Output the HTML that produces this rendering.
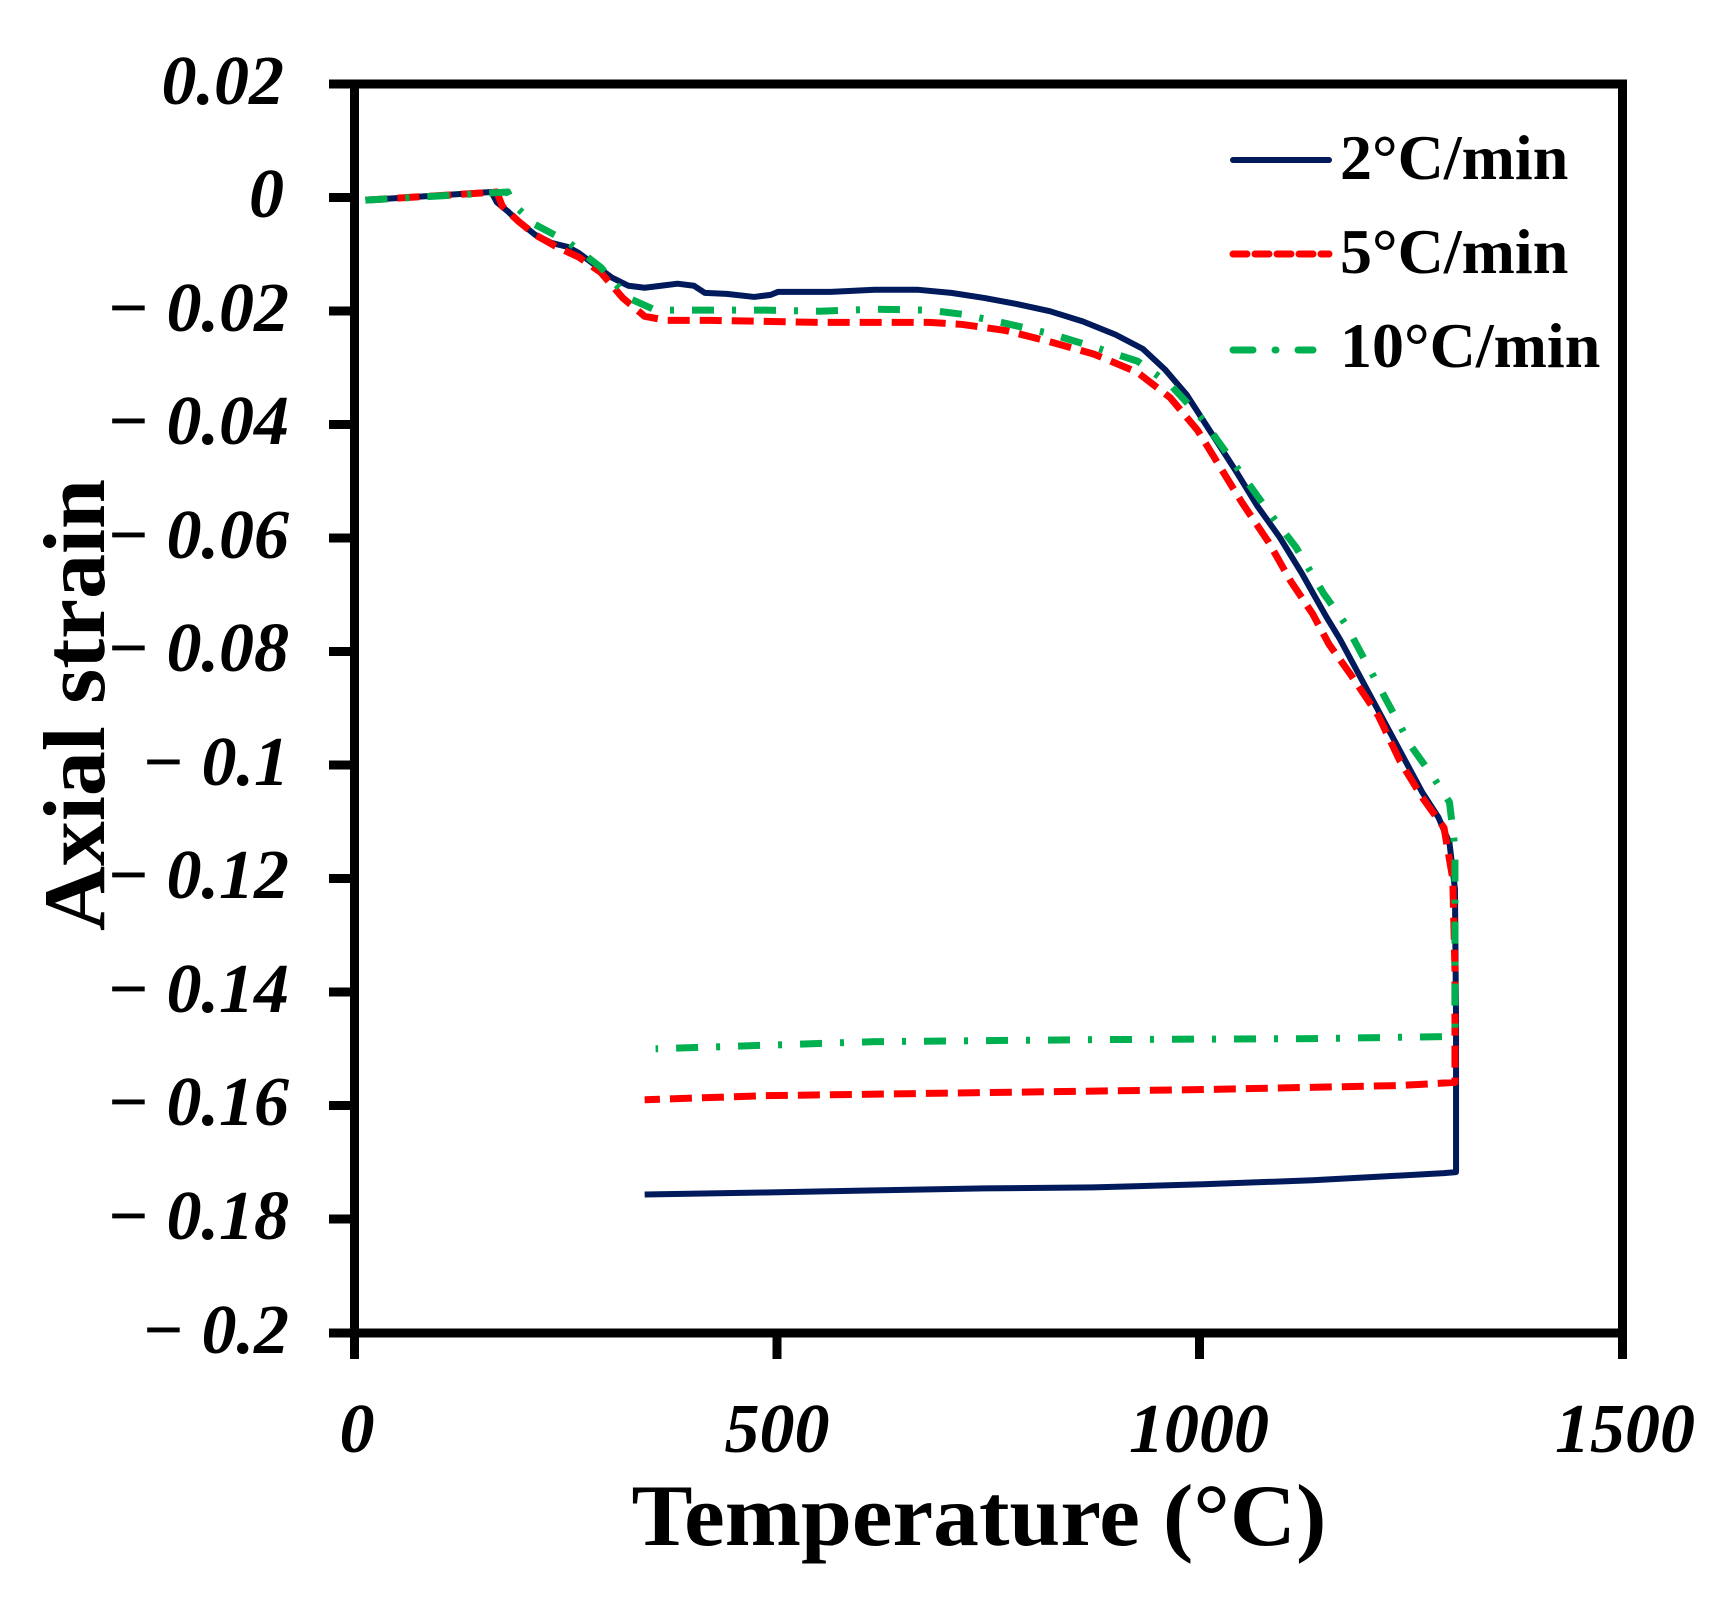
<!DOCTYPE html>
<html><head><meta charset="utf-8"><style>
html,body{margin:0;padding:0;background:#fff;}
svg{display:block;}
.tk{font-family:"Liberation Serif",serif;font-style:italic;font-weight:bold;font-size:70px;fill:#000;}
.lg{font-family:"Liberation Serif",serif;font-weight:bold;font-size:64px;fill:#000;}
.ti{font-family:"Liberation Serif",serif;font-weight:bold;font-size:88px;fill:#000;}
</style></head><body>
<svg width="1714" height="1598" viewBox="0 0 1714 1598" xmlns="http://www.w3.org/2000/svg">
<rect width="1714" height="1598" fill="#fff"/>
<g stroke="#000" stroke-width="9" fill="none">
<line x1="354.5" y1="79.5" x2="354.5" y2="1337.5"/>
<line x1="350" y1="1333" x2="1627" y2="1333"/>
<line x1="1622.5" y1="79.5" x2="1622.5" y2="1337.5"/>
<line x1="350" y1="84" x2="1627" y2="84"/>
<line x1="329" y1="84" x2="354" y2="84"/>
<line x1="329" y1="197.5" x2="354" y2="197.5"/>
<line x1="329" y1="311" x2="354" y2="311"/>
<line x1="329" y1="424.5" x2="354" y2="424.5"/>
<line x1="329" y1="538" x2="354" y2="538"/>
<line x1="329" y1="651.5" x2="354" y2="651.5"/>
<line x1="329" y1="765" x2="354" y2="765"/>
<line x1="329" y1="878.5" x2="354" y2="878.5"/>
<line x1="329" y1="992" x2="354" y2="992"/>
<line x1="329" y1="1105.5" x2="354" y2="1105.5"/>
<line x1="329" y1="1219" x2="354" y2="1219"/>
<line x1="329" y1="1333" x2="354" y2="1333"/>
<line x1="354.5" y1="1333" x2="354.5" y2="1359"/>
<line x1="777" y1="1333" x2="777" y2="1359"/>
<line x1="1199.5" y1="1333" x2="1199.5" y2="1359"/>
<line x1="1622.5" y1="1333" x2="1622.5" y2="1359"/>
</g>
<g class="tk" text-anchor="end">
<text x="284" y="104">0.02</text>
<text x="284" y="217">0</text>
<text x="289" y="331">− 0.02</text>
<text x="289" y="444">− 0.04</text>
<text x="289" y="558">− 0.06</text>
<text x="289" y="671">− 0.08</text>
<text x="289" y="785">− 0.1</text>
<text x="289" y="898">− 0.12</text>
<text x="289" y="1012">− 0.14</text>
<text x="289" y="1125">− 0.16</text>
<text x="289" y="1239">− 0.18</text>
<text x="289" y="1353">− 0.2</text>
</g>
<g class="tk" text-anchor="middle">
<text x="357" y="1452">0</text>
<text x="777" y="1452">500</text>
<text x="1199" y="1452">1000</text>
<text x="1625" y="1452">1500</text>
</g>
<text class="ti" x="979" y="1545" text-anchor="middle" textLength="695" lengthAdjust="spacingAndGlyphs">Temperature (°C)</text>
<text class="ti" transform="translate(104,705) rotate(-90)" text-anchor="middle" textLength="452" lengthAdjust="spacingAndGlyphs">Axial strain</text>
<line x1="1233" y1="160" x2="1329" y2="160" stroke="#001a5c" stroke-width="6" stroke-linecap="round"/>
<line x1="1233" y1="254" x2="1329" y2="254" stroke="#ff0000" stroke-width="7" stroke-dasharray="14 8" stroke-linecap="round"/>
<line x1="1233" y1="350" x2="1313" y2="350" stroke="#00b050" stroke-width="7" stroke-dasharray="20 22 1 22" stroke-linecap="round"/>
<g class="lg">
<text x="1340" y="179">2°C/min</text>
<text x="1340" y="273">5°C/min</text>
<text x="1340" y="367">10°C/min</text>
</g>
<g transform="translate(-1.4,2.5) scale(1.095,1.0188)" fill="none" stroke-linejoin="round">
<polyline vector-effect="non-scaling-stroke" stroke="#001a5c" stroke-width="6" points="335,194 450,186 455,196 465,205 475,215 490,228 505,236 520,240 530,246 545,258 560,270 575,278 590,280 605,278 620,276 635,278 645,285 665,286 690,289 705,287 712,284 760,284 800,282 840,282 870,285 900,290 930,296 960,303 990,313 1020,326 1045,340 1065,360 1085,385 1100,410 1115,435 1130,460 1150,495 1170,525 1190,560 1212,602 1225,625 1245,665 1265,705 1285,745 1300,775 1315,800 1325,825 1330,870 1331,1000 1331,1148 1320,1149 1270,1152 1200,1156 1100,1160 1000,1163 900,1164 800,1166 700,1168 590,1170"/>
<polyline vector-effect="non-scaling-stroke" stroke="#ff0000" stroke-width="7" stroke-dasharray="22 10" points="335,194 455,186 460,200 475,215 490,228 510,240 530,250 550,265 570,290 590,308 610,312 650,312 700,313 750,314 800,314 850,314 880,316 920,322 960,333 1000,345 1040,363 1070,388 1095,420 1115,455 1135,490 1160,530 1180,568 1200,600 1215,630 1235,660 1260,700 1280,745 1300,780 1320,810 1328,860 1330,950 1330,1060 1280,1063 1100,1067 900,1070 700,1073 590,1077"/>
<polyline vector-effect="non-scaling-stroke" stroke="#00b050" stroke-width="7" stroke-dasharray="22 18 4 18" points="335,194 465,186 470,198 490,218 520,235 550,260 575,290 600,302 650,302 700,302 750,303 800,301 850,302 880,306 920,315 960,325 1000,338 1040,352 1070,375 1100,410 1120,440 1140,470 1160,500 1185,535 1210,580 1230,610 1250,650 1270,690 1290,730 1310,760 1325,785 1330,830 1330,950 1330,1010 1320,1015 1200,1017 1000,1018 800,1020 600,1027"/>
</g>
</svg>
</body></html>
